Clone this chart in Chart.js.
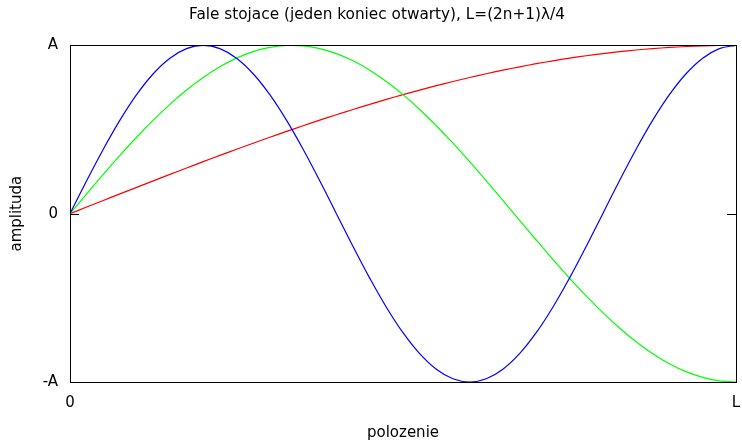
<!DOCTYPE html>
<html>
<head>
<meta charset="utf-8">
<script src="https://cdn.jsdelivr.net/npm/chart.js@4/dist/chart.umd.min.js"></script>
<style>
  html, body { margin: 0; padding: 0; background: #fff; }
  #wrap { width: 742px; height: 442px; }
</style>
</head>
<body>
<div id="wrap"><canvas id="chart"></canvas></div>
<script>
// positions along the string, 0 .. L (as fraction of L)
const positions = [
  0, 0.025, 0.05, 0.075, 0.1, 0.125, 0.15, 0.175, 0.2, 0.225,
  0.25, 0.275, 0.3, 0.325, 0.35, 0.375, 0.4, 0.425, 0.45, 0.475,
  0.5, 0.525, 0.55, 0.575, 0.6, 0.625, 0.65, 0.675, 0.7, 0.725,
  0.75, 0.775, 0.8, 0.825, 0.85, 0.875, 0.9, 0.925, 0.95, 0.975, 1
];

// amplitude (as fraction of A)
const redWave = [
  0, 0.0393, 0.0785, 0.1175, 0.1564, 0.1951, 0.2334, 0.2714, 0.309, 0.3461,
  0.3827, 0.4187, 0.454, 0.4886, 0.5225, 0.5556, 0.5878, 0.6191, 0.6494, 0.6788,
  0.7071, 0.7343, 0.7604, 0.7853, 0.809, 0.8315, 0.8526, 0.8725, 0.891, 0.9081,
  0.9239, 0.9382, 0.9511, 0.9625, 0.9724, 0.9808, 0.9877, 0.9931, 0.9969, 0.9992, 1
];
const greenWave = [
  0, 0.1175, 0.2334, 0.3461, 0.454, 0.5556, 0.6494, 0.7343, 0.809, 0.8725,
  0.9239, 0.9625, 0.9877, 0.9992, 0.9969, 0.9808, 0.9511, 0.9081, 0.8526, 0.7853,
  0.7071, 0.6191, 0.5225, 0.4187, 0.309, 0.1951, 0.0785, -0.0393, -0.1564, -0.2714,
  -0.3827, -0.4886, -0.5878, -0.6788, -0.7604, -0.8315, -0.891, -0.9382, -0.9724, -0.9931, -1
];
const blueWave = [
  0, 0.1951, 0.3827, 0.5556, 0.7071, 0.8315, 0.9239, 0.9808, 1, 0.9808,
  0.9239, 0.8315, 0.7071, 0.5556, 0.3827, 0.1951, 0, -0.1951, -0.3827, -0.5556,
  -0.7071, -0.8315, -0.9239, -0.9808, -1, -0.9808, -0.9239, -0.8315, -0.7071, -0.5556,
  -0.3827, -0.1951, 0, 0.1951, 0.3827, 0.5556, 0.7071, 0.8315, 0.9239, 0.9808, 1
];

const xTickValues = [0, 1];
const xTickLabels = ["0", "L"];
const yTickValues = [-1, 0, 1];
const yTickLabels = ["-A", "0", "A"];

const FONT = "'DejaVu Sans', sans-serif";

function toPoints(ys) {
  return ys.map((y, i) => ({ x: positions[i], y: y }));
}

// frame around the plot plus the small inward ticks at zero
const framePlugin = {
  id: "frame",
  afterLayout(chart) {
    // the title sits a little right of the canvas centre
    if (chart.titleBlock) {
      chart.titleBlock.left += 9;
      chart.titleBlock.right += 9;
    }
  },
  afterDatasetsDraw(chart) {
    const { ctx, chartArea: a, scales } = chart;
    const y0 = Math.round(scales.y.getPixelForValue(0)) + 0.5;
    ctx.save();
    ctx.strokeStyle = "#000";
    ctx.lineWidth = 1;
    ctx.strokeRect(Math.round(a.left) + 0.5, Math.round(a.top) + 0.5,
      Math.round(a.right - a.left), Math.round(a.bottom - a.top));
    ctx.beginPath();
    ctx.moveTo(a.left, y0);
    ctx.lineTo(a.left + 9, y0);
    ctx.moveTo(a.right, y0);
    ctx.lineTo(a.right - 9, y0);
    ctx.stroke();
    ctx.restore();
  }
};

const lineStyle = { borderWidth: 1.2, pointRadius: 0, tension: 0.4, fill: false };

new Chart(document.getElementById("chart"), {
  type: "line",
  data: {
    datasets: [
      Object.assign({ data: toPoints(blueWave), borderColor: "#0000ff" }, lineStyle),
      Object.assign({ data: toPoints(greenWave), borderColor: "#00ff00" }, lineStyle),
      Object.assign({ data: toPoints(redWave), borderColor: "#ff0000" }, lineStyle),
    ],
  },
  options: {
    responsive: true,
    maintainAspectRatio: false,
    animation: false,
    layout: { padding: { top: 0, right: 6, bottom: 0, left: 0 } },
    plugins: {
      legend: { display: false },
      tooltip: { enabled: false },
      title: {
        display: true,
        text: "Fale stojace (jeden koniec otwarty), L=(2n+1)λ/4",
        color: "#000",
        font: { family: FONT, size: 15.3, weight: "normal", lineHeight: 1.2 },
        padding: { top: 6, bottom: 21 },
      },
    },
    scales: {
      x: {
        type: "linear",
        min: 0,
        max: 1,
        afterBuildTicks: (s) => { s.ticks = xTickValues.map((v) => ({ value: v })); },
        afterFit: (s) => { s.height = 60; s.paddingLeft = 0; s.paddingRight = 0; },
        grid: { display: true, drawOnChartArea: false, drawTicks: false },
        border: { display: false },
        ticks: {
          color: "#000",
          padding: 12,
          maxRotation: 0,
          font: { family: FONT, size: 15 },
          callback: (v) => xTickLabels[xTickValues.indexOf(v)],
        },
        title: {
          display: true,
          text: "polozenie",
          color: "#000",
          font: { family: FONT, size: 15, lineHeight: 1.2 },
          padding: { top: 0, bottom: 0 },
        },
      },
      y: {
        type: "linear",
        min: -1,
        max: 1,
        afterBuildTicks: (s) => { s.ticks = yTickValues.map((v) => ({ value: v })); },
        afterFit: (s) => { s.width = 70; s.paddingTop = 0; s.paddingBottom = 0; },
        grid: { display: true, drawOnChartArea: false, drawTicks: false },
        border: { display: false },
        ticks: {
          color: "#000",
          padding: 12,
          font: { family: FONT, size: 15 },
          callback: (v) => yTickLabels[yTickValues.indexOf(v)],
        },
        title: {
          display: true,
          text: "amplituda",
          color: "#000",
          font: { family: FONT, size: 15, lineHeight: 1.2 },
          padding: { top: 8, bottom: 0 },
        },
      },
    },
  },
  plugins: [framePlugin],
});
</script>
</body>
</html>
